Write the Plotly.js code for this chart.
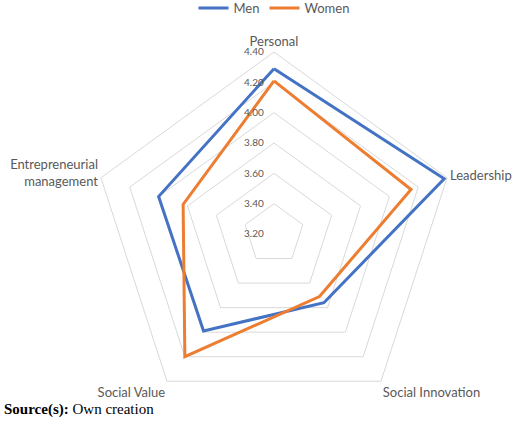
<!DOCTYPE html>
<html>
<head>
<meta charset="utf-8">
<script src="https://cdn.plot.ly/plotly-3.0.1.min.js"></script>
<style>
  html, body { margin: 0; padding: 0; background: #fff; }
  #chart { width: 520px; height: 427px; }
</style>
</head>
<body>
<div id="chart"></div>
<script>
// Radar chart: competence scores by gender
const categories = ['Personal', 'Leadership', 'Social Innovation', 'Social Value', 'Entrepreneurial<br>management'];
const menValues   = [4.29, 4.38, 3.76, 3.99, 4.00];
const womenValues = [4.21, 4.15, 3.71, 4.20, 3.83];
const radialTicks = [3.20, 3.40, 3.60, 3.80, 4.00, 4.20, 4.40];

const GRID = '#d9d9d9';
const TEXT = '#595959';
const FONT = 'Lato, "Open Sans", sans-serif';

// close the polygon by repeating the first point
const closeLoop = arr => arr.concat([arr[0]]);

// invisible trailing chars: keep a small gap between labels and the axis
const PAD = '<span style="color:rgba(0,0,0,0)">0.</span>';

const data = [
    { type: 'scatterpolar', mode: 'lines', name: 'Men',
      r: closeLoop(menValues), theta: closeLoop(categories),
      line: { color: '#4472C4', width: 3 } },
    { type: 'scatterpolar', mode: 'lines', name: 'Women',
      r: closeLoop(womenValues), theta: closeLoop(categories),
      line: { color: '#ED7D31', width: 3 } }
];

const layout = {
    width: 520, height: 427,
    margin: { t: 52, b: 11, l: 92, r: 64, autoexpand: false },
    paper_bgcolor: '#fff',
    font: { family: FONT, color: TEXT, size: 13 },
    showlegend: true,
    legend: { orientation: 'h', x: 0.5, xanchor: 'center', y: 1.162, yanchor: 'top',
              font: { size: 13, color: TEXT } },
    polar: {
        bgcolor: '#fff',
        gridshape: 'linear',
        radialaxis: {
            range: [3.2, 4.4], tickvals: radialTicks,
            ticktext: radialTicks.map(v => v.toFixed(2) + PAD),
            angle: 90, side: 'counterclockwise', tickangle: 90,
            showline: false, ticks: '',
            gridcolor: GRID, gridwidth: 1,
            tickfont: { size: 10, color: TEXT }
        },
        angularaxis: {
            rotation: 90, direction: 'clockwise',
            showgrid: false, ticks: '',
            linecolor: GRID, linewidth: 1,
            tickfont: { size: 13, color: TEXT }
        }
    },
    annotations: [
        { xref: 'paper', yref: 'paper', x: -0.247, y: 0.017, xanchor: 'left', yanchor: 'middle',
          showarrow: false, align: 'left',
          text: '<b>Source(s):</b> Own creation',
          font: { family: '"Liberation Serif", "Times New Roman", serif', size: 15, color: '#000' } }
    ]
};

Plotly.newPlot('chart', data, layout, { displayModeBar: false, staticPlot: true });
</script>
</body>
</html>
